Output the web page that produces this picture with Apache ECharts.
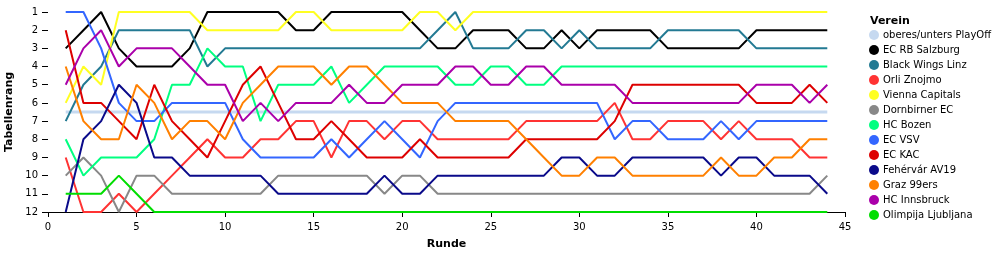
<!DOCTYPE html>
<html>
<head>
<meta charset="utf-8">
<script src="https://cdn.jsdelivr.net/npm/echarts@6/dist/echarts.min.js"></script>
<style>
html,body{margin:0;padding:0;background:#fff;}
#chart{width:1000px;height:255px;}
</style>
</head>
<body>
<div id="chart"></div>
<script>
// Rounds (Runde)
var rounds = [];
for (var i = 1; i <= 44; i++) rounds.push(i);

var playoffName = 'oberes/unters PlayOff';
var playoffLevel = 6.5;

var teams = ['EC RB Salzburg','Black Wings Linz','Orli Znojmo','Vienna Capitals','Dornbirner EC','HC Bozen','EC VSV','EC KAC','Fehérvár AV19','Graz 99ers','HC Innsbruck','Olimpija Ljubljana'];

var salzburg  = [3,2,1,3,4,4,4,3,1,1,1, 1,1,2,2,1,1,1,1,1,2, 3,3,2,2,2,3,3,2,3,2, 2,2,2,3,3,3,3,3,2,2,2,2,2];
var linz      = [7,5,4,2,2,2,2,2,4,3,3, 3,3,3,3,3,3,3,3,3,3, 2,1,3,3,3,2,2,3,2,3, 3,3,3,2,2,2,2,2,3,3,3,3,3];
var znojmo    = [9,12,12,11,12,11,10,9,8,9,9, 8,8,7,7,9,7,7,8,7,7, 8,8,8,8,8,7,7,7,7,7, 6,8,8,7,7,7,8,7,8,8,8,9,9];
var vienna    = [6,4,5,1,1,1,1,1,2,2,2, 2,2,1,1,2,2,2,2,2,1, 1,2,1,1,1,1,1,1,1,1, 1,1,1,1,1,1,1,1,1,1,1,1,1];
var dornbirn  = [10,9,10,12,10,10,11,11,11,11,11, 11,10,10,10,10,10,10,11,10,10, 11,11,11,11,11,11,11,11,11,11, 11,11,11,11,11,11,11,11,11,11,11,11,10];
var bozen     = [8,10,9,9,9,8,5,5,3,4,4, 7,5,5,5,4,6,5,4,4,4, 4,5,5,4,4,5,5,4,4,4, 4,4,4,4,4,4,4,4,4,4,4,4,4];
var vsv       = [1,1,3,6,7,7,6,6,6,6,8, 9,9,9,9,8,9,8,7,8,9, 7,6,6,6,6,6,6,6,6,6, 8,7,7,8,8,8,7,8,7,7,7,7,7];
var kac       = [2,6,6,7,8,5,7,8,9,7,5, 4,6,8,8,7,8,9,9,9,8, 9,9,9,9,9,8,8,8,8,8, 7,5,5,5,5,5,5,5,6,6,6,5,6];
var fehervar  = [12,8,7,5,6,9,9,10,10,10,10, 10,11,11,11,11,11,11,10,11,11, 10,10,10,10,10,10,10,9,9,10, 10,9,9,9,9,9,10,9,9,10,10,10,11];
var graz      = [4,7,8,8,5,6,8,7,7,8,6, 5,4,4,4,5,4,4,5,6,6, 6,7,7,7,7,8,9,10,10,9, 9,10,10,10,10,10,9,10,10,9,9,8,8];
var innsbruck = [5,3,2,4,3,3,3,4,5,5,7, 6,7,6,6,6,5,6,6,5,5, 5,4,4,5,5,4,4,5,5,5, 5,6,6,6,6,6,6,6,5,5,5,6,5];
var olimpija  = [11,11,11,10,11,12,12,12,12,12,12, 12,12,12,12,12,12,12,12,12,12, 12,12,12,12,12,12,12,12,12,12, 12,12,12,12,12,12,12,12,12,12,12,12,12];

var teamValues = [salzburg, linz, znojmo, vienna, dornbirn, bozen, vsv, kac, fehervar, graz, innsbruck, olimpija];
var teamColors = ['#000000','#237a93','#ff3333','#ffff22','#888888','#00ff80','#3366ff','#dd0000','#0a0a8a','#ff8000','#aa00aa','#00dd00'];
var playoffColor = '#c6d9f0';

var yTicks = [1,2,3,4,5,6,7,8,9,10,11,12];
var xTicks = [0,5,10,15,20,25,30,35,40,45];

var FONT = 'DejaVu Sans';

var series = [{
  name: playoffName,
  type: 'line',
  data: [[rounds[0], playoffLevel], [rounds[rounds.length-1], playoffLevel]],
  symbol: 'none',
  lineStyle: {color: playoffColor, width: 3},
  itemStyle: {color: playoffColor},
  z: 1
}];
teams.forEach(function(t, idx){
  series.push({
    name: t,
    type: 'line',
    data: rounds.map(function(r, j){ return [r, teamValues[idx][j]]; }),
    symbol: 'none',
    lineStyle: {color: teamColors[idx], width: 2},
    itemStyle: {color: teamColors[idx]},
    z: 2
  });
});

var chart = echarts.init(document.getElementById('chart'), null, {renderer: 'canvas'});
chart.setOption({
  animation: false,
  backgroundColor: '#ffffff',
  textStyle: {fontFamily: FONT},
  title: {
    text: 'Verein',
    left: 870,
    top: 16,
    padding: 0,
    textStyle: {fontFamily: FONT, fontSize: 11, fontWeight: 'bold', color: '#000'}
  },
  legend: {
    orient: 'vertical',
    left: 869,
    top: 30,
    itemWidth: 10,
    itemHeight: 10,
    itemGap: 5,
    icon: 'circle',
    padding: 0,
    textStyle: {fontFamily: FONT, fontSize: 10, color: '#000', padding: [0,0,0,-1]},
    data: [playoffName].concat(teams)
  },
  grid: {left: 48, right: 155, top: 12, bottom: 43, containLabel: false, outerBoundsMode: 'none'},
  xAxis: {
    type: 'value',
    min: xTicks[0],
    max: xTicks[xTicks.length-1],
    interval: 5,
    name: 'Runde',
    nameLocation: 'middle',
    nameGap: 27,
    nameTextStyle: {fontFamily: FONT, fontSize: 11, fontWeight: 'bold', color: '#000'},
    axisLine: {show: true, lineStyle: {color: '#000', width: 1}},
    axisTick: {show: true, length: 5, lineStyle: {color: '#000'}},
    axisLabel: {fontFamily: FONT, fontSize: 10, color: '#000', margin: 10},
    splitLine: {show: false}
  },
  yAxis: {
    type: 'value',
    inverse: true,
    min: yTicks[0],
    max: yTicks[yTicks.length-1],
    interval: 1,
    name: 'Tabellenrang',
    nameLocation: 'middle',
    nameGap: 32,
    nameTextStyle: {fontFamily: FONT, fontSize: 11, fontWeight: 'bold', color: '#000'},
    axisLine: {show: false},
    axisTick: {show: true, length: 6, lineStyle: {color: '#000'}},
    axisLabel: {fontFamily: FONT, fontSize: 10, color: '#000', margin: 10},
    splitLine: {show: false}
  },
  series: series
});
</script>
</body>
</html>
